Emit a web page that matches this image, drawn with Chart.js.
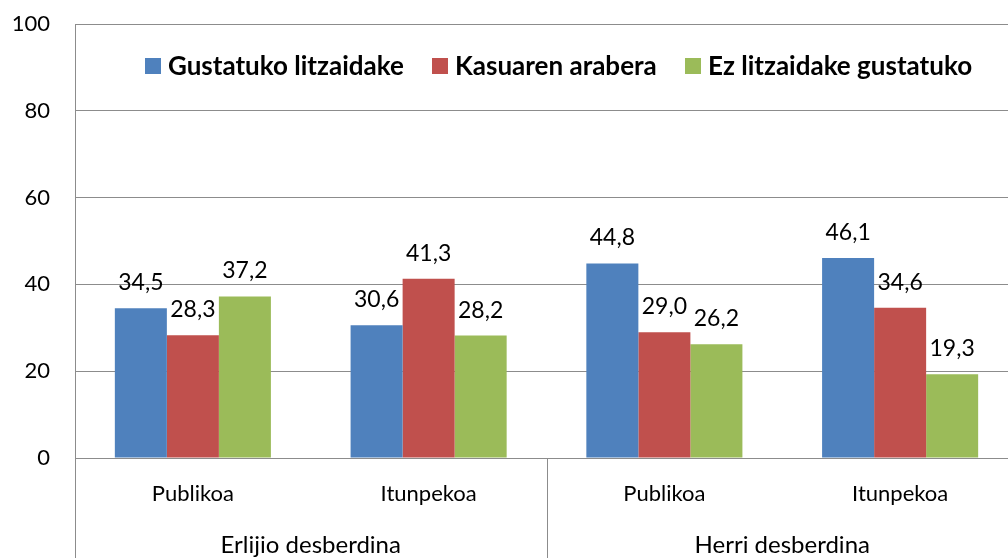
<!DOCTYPE html>
<html>
<head>
<meta charset="utf-8">
<script src="https://cdn.jsdelivr.net/npm/chart.js@4/dist/chart.umd.min.js"></script>
<style>
    html, body { margin: 0; padding: 0; background: #fff; overflow: hidden; }
    #wrap { width: 1030px; height: 558px; }
</style>
</head>
<body>
<div id="wrap"><canvas id="chart" width="1030" height="558"></canvas></div>
<script>
// Categories, grouping and series
const categories = ['Publikoa', 'Itunpekoa', 'Publikoa', 'Itunpekoa'];
const groups = ['Erlijio desberdina', 'Herri desberdina'];
const seriesNames = ['Gustatuko litzaidake', 'Kasuaren arabera', 'Ez litzaidake gustatuko'];
const gustatuko = [34.5, 30.6, 44.8, 46.1];
const kasuaren = [28.3, 41.3, 29.0, 34.6];
const ezGustatuko = [37.2, 28.2, 26.2, 19.3];
const yTicks = [0, 20, 40, 60, 80, 100];
const colors = ['#4F81BD', '#C0504D', '#9BBB59'];

const FONT = "Lato, 'Open Sans', sans-serif";
const GRID = '#8c8c8c';

function fmt(v) {
    return v.toFixed(1).replace('.', ',');
}

// value labels above each bar
const barLabels = {
    id: 'barLabels',
    afterDatasetsDraw(chart) {
        const ctx = chart.ctx;
        ctx.save();
        ctx.font = '23px ' + FONT;
        ctx.fillStyle = '#000';
        ctx.textAlign = 'center';
        ctx.textBaseline = 'bottom';
        chart.data.datasets.forEach((ds, i) => {
            chart.getDatasetMeta(i).data.forEach((bar, j) => {
                ctx.fillText(fmt(ds.data[j]), bar.x, bar.y - 14);
            });
        });
        ctx.restore();
    }
};

// second row of category labels and the separators under the axis
const groupAxis = {
    id: 'groupAxis',
    afterDraw(chart) {
        const ctx = chart.ctx;
        const x = chart.scales.x;
        const area = chart.chartArea;
        const bottom = chart.height;
        ctx.save();
        ctx.strokeStyle = GRID;
        ctx.lineWidth = 1;
        [-0.5, 1.5, 3.5].forEach(v => {
            const px = Math.round(x.getPixelForValue(v)) + 0.5;
            ctx.beginPath();
            ctx.moveTo(px, area.bottom);
            ctx.lineTo(px, bottom);
            ctx.stroke();
        });
        ctx.font = '24px ' + FONT;
        ctx.fillStyle = '#000';
        ctx.textAlign = 'center';
        ctx.textBaseline = 'middle';
        groups.forEach((g, i) => {
            const cx = (x.getPixelForValue(i * 2 - 0.5) + x.getPixelForValue(i * 2 + 1.5)) / 2;
            ctx.fillText(g, cx, area.bottom + 87);
        });
        ctx.restore();
    }
};

// legend inside the plot, near the top
const innerLegend = {
    id: 'innerLegend',
    afterDraw(chart) {
        const ctx = chart.ctx;
        ctx.save();
        ctx.font = 'bold 26px ' + FONT;
        ctx.textBaseline = 'middle';
        const y = 66;
        const starts = [145, 432, 685];
        chart.data.datasets.forEach((ds, i) => {
            ctx.fillStyle = ds.backgroundColor;
            ctx.fillRect(starts[i], y - 8, 16, 16);
            ctx.fillStyle = '#000';
            ctx.fillText(ds.label, starts[i] + 23, y + 1);
        });
        ctx.restore();
    }
};

new Chart(document.getElementById('chart'), {
    type: 'bar',
    data: {
        labels: categories,
        datasets: [
            { label: seriesNames[0], data: gustatuko, backgroundColor: colors[0] },
            { label: seriesNames[1], data: kasuaren, backgroundColor: colors[1] },
            { label: seriesNames[2], data: ezGustatuko, backgroundColor: colors[2] }
        ]
    },
    options: {
        responsive: false,
        animation: false,
        devicePixelRatio: 1,
        layout: { padding: { top: 24, right: 12, left: 0, bottom: 0 } },
        datasets: {
            bar: { categoryPercentage: 0.662, barPercentage: 1.0, borderWidth: 0 }
        },
        plugins: {
            legend: { display: false },
            tooltip: { enabled: false }
        },
        scales: {
            x: {
                grid: { display: false, drawTicks: false },
                border: { color: GRID, width: 1 },
                ticks: {
                    color: '#000',
                    font: { family: FONT, size: 22 },
                    padding: 23,
                    maxRotation: 0
                },
                afterFit(scale) { scale.height = 100; }
            },
            y: {
                min: 0,
                max: 100,
                afterBuildTicks(scale) {
                    scale.ticks = yTicks.map(v => ({ value: v }));
                },
                grid: { color: GRID, drawTicks: false },
                border: { color: GRID, width: 1 },
                ticks: {
                    color: '#000',
                    font: { family: FONT, size: 22 },
                    padding: 25
                },
                afterFit(scale) {
                    scale.width = 75;
                    scale.paddingTop = 0;
                    scale.paddingBottom = 0;
                }
            }
        }
    },
    plugins: [barLabels, groupAxis, innerLegend]
});
</script>
</body>
</html>
